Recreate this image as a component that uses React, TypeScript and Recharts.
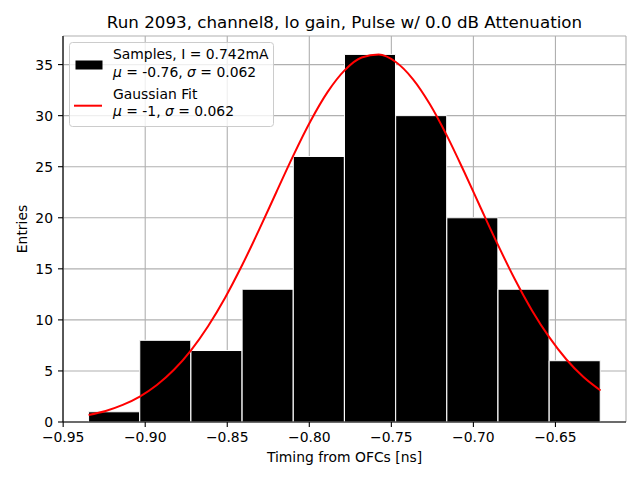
import React from 'react'
import { ComposedChart, Bar, Line, XAxis, YAxis, CartesianGrid } from 'recharts'

// histogram bins (centres) and counts
const binCenters = [-0.91891, -0.88772, -0.85653, -0.82534, -0.79415, -0.76296, -0.73177, -0.70058, -0.66939, -0.6382]
const counts = [1, 8, 7, 13, 26, 36, 30, 20, 13, 6]

// gaussian fit curve
const fitX = [
  -0.9345, -0.9241, -0.9137, -0.9033, -0.8929, -0.8825, -0.8721, -0.8617, -0.8513, -0.8409, -0.8305,
  -0.8201, -0.8097, -0.7993, -0.7889, -0.7785, -0.7681, -0.7577, -0.7473, -0.7369, -0.7265, -0.7161,
  -0.7057, -0.6953, -0.6849, -0.6745, -0.6641, -0.6537, -0.6433, -0.6329, -0.6225
]
const fitY = [
  0.69, 1.08, 1.67, 2.49, 3.62, 5.11, 7.02, 9.38, 12.17, 15.37, 18.86,
  22.5, 26.11, 29.45, 32.3, 34.43, 35.69, 35.98, 35.25, 33.58, 31.11, 28.02,
  24.53, 20.88, 17.29, 13.91, 10.88, 8.28, 6.12, 4.4, 3.08
]

const xTicks = [-0.95, -0.9, -0.85, -0.8, -0.75, -0.7, -0.65]
const yTicks = [0, 5, 10, 15, 20, 25, 30, 35]

const X_DOMAIN: [number, number] = [-0.9501, -0.607]
const Y_DOMAIN: [number, number] = [0, 37.8]

const bins = binCenters.map((x, i) => ({ x, count: counts[i] }))
const fit = fitX.map((x, i) => ({ x, fit: fitY[i] }))

const FONT = 'DejaVu Sans'
const tickStyle = { fill: '#000', fontSize: 13.9, fontFamily: FONT }
const fmtX = (v: number) => v.toFixed(2).replace('-', '\u2212')

export default function App() {
  return (
    <div style={{ position: 'absolute', left: 0, top: 0, width: 640, height: 480, background: '#fff' }}>
      <ComposedChart
        width={640}
        height={480}
        data={bins}
        margin={{ top: 36, right: 14, bottom: 0, left: 0 }}
        barCategoryGap={0}
        barGap={0}
      >
        <XAxis xAxisId="bins" dataKey="x" type="number" domain={X_DOMAIN} allowDataOverflow hide height={0} />
        <XAxis
          xAxisId="fit"
          dataKey="x"
          type="number"
          domain={X_DOMAIN}
          allowDataOverflow
          ticks={xTicks}
          interval={0}
          tickFormatter={fmtX}
          tick={tickStyle}
          tickSize={5}
          tickMargin={5}
          height={58}
          axisLine={{ stroke: '#000', strokeWidth: 1.1 }}
          tickLine={{ stroke: '#000', strokeWidth: 1.1 }}
        />
        <XAxis
          xAxisId="top"
          orientation="top"
          type="number"
          domain={X_DOMAIN}
          allowDataOverflow
          tick={false}
          tickLine={false}
          height={0}
          axisLine={{ stroke: '#000', strokeWidth: 1.1 }}
        />
        <YAxis
          type="number"
          domain={Y_DOMAIN}
          allowDataOverflow
          ticks={yTicks}
          interval={0}
          tick={tickStyle}
          tickSize={5}
          tickMargin={5}
          width={63}
          axisLine={{ stroke: '#000', strokeWidth: 1.1 }}
          tickLine={{ stroke: '#000', strokeWidth: 1.1 }}
        />
        <YAxis
          yAxisId="right"
          orientation="right"
          type="number"
          domain={Y_DOMAIN}
          allowDataOverflow
          tick={false}
          tickLine={false}
          width={0}
          axisLine={{ stroke: '#000', strokeWidth: 1.1 }}
        />
        <Bar xAxisId="bins" dataKey="count" fill="#000" stroke="#fff" strokeWidth={1} isAnimationActive={false} />
        <CartesianGrid xAxisId="fit" stroke="#b0b0b0" strokeWidth={1.1} />
        <Line
          xAxisId="fit"
          data={fit}
          dataKey="fit"
          type="monotone"
          stroke="#ff0000"
          strokeWidth={2}
          dot={false}
          activeDot={false}
          isAnimationActive={false}
        />
      </ComposedChart>
      <svg
        width={640}
        height={480}
        style={{ position: 'absolute', left: 0, top: 0, pointerEvents: 'none' }}
        fontFamily={FONT}
      >
        <text x={344.5} y={27.7} textAnchor="middle" fontSize={16.7} fill="#000">
          Run 2093, channel8, lo gain, Pulse w/ 0.0 dB Attenuation
        </text>
        <text x={344.5} y={462} textAnchor="middle" fontSize={13.9} fill="#000">
          Timing from OFCs [ns]
        </text>
        <text x={22} y={229} textAnchor="middle" fontSize={13.9} fill="#000" dy="0.36em" transform="rotate(-90 22 229)">
          Entries
        </text>
        <rect x={69.5} y={42.5} width={204} height={84} rx={3} fill="#fff" fillOpacity={0.8} stroke="#cccccc" strokeWidth={1} />
        <rect x={75.5} y={60.5} width={27} height={9} fill="#000" />
        <line x1={74} y1={105.7} x2={102} y2={105.7} stroke="#ff0000" strokeWidth={2} />
        <g fontSize={13.9} fill="#000">
          <text x={113} y={59.3}>Samples, I = 0.742mA</text>
          <text x={113} y={76.7}>
            <tspan fontStyle="italic">μ</tspan> = -0.76, <tspan fontStyle="italic">σ</tspan> = 0.062
          </text>
          <text x={113} y={99.3}>Gaussian Fit</text>
          <text x={113} y={116}>
            <tspan fontStyle="italic">μ</tspan> = -1, <tspan fontStyle="italic">σ</tspan> = 0.062
          </text>
        </g>
      </svg>
    </div>
  )
}
